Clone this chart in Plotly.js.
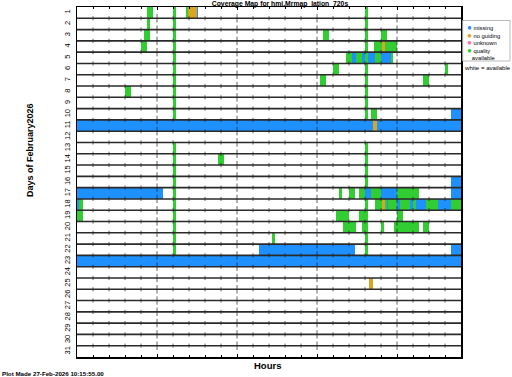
<!DOCTYPE html>
<html><head><meta charset="utf-8">
<script src="https://cdn.plot.ly/plotly-3.0.1.min.js"></script>
<style>html,body{margin:0;padding:0;background:#fff}#chart{width:512px;height:377px}</style>
</head><body><div id="chart"></div>
<script>
// ---- data (hours of day, per day of February 2026) ----
const dayLabels = ['1','2','3','4','5','6','7','8','9','10','11','12','13','14','15','16','17','18','19','20','21','22','23','24','25','26','27','28','29','30','31'];
const hourTicks = [0,1,2,3,4,5,6,7,8,9,10,11,12,13,14,15,16,17,18,19,20,21,22,23,24];

const qualityDay   = [1,1,1,1, 2,2,2, 3,3,3,3,3, 4,4,4,4,4, 5,5,5,5,5,5, 6,6,6,6, 7,7,7,7, 8,8,8, 9,9, 10,10,10, 13,13, 14,14,14, 15,15, 16,16, 17,17,17,17,17,17, 18,18,18,18,18,18,18,18,18,18, 19,19,19,19,19, 20,20,20,20,20,20, 21,21,21, 22,22];
const qualityStart = [4.40,6.02,6.79,18.0, 4.40,6.02,18.0, 4.19,6.02,15.40,18.0,19.0, 4.0,6.02,18.0,18.58,19.25, 6.02,16.79,17.44,18.0,18.6,19.6, 6.02,15.98,18.0,23.0, 6.02,15.19,18.0,21.6, 3.0,6.02,18.0, 6.02,18.0, 6.02,18.0,18.38, 6.02,18.0, 6.02,8.79,18.0, 6.02,18.0, 6.02,18.0, 6.02,16.4,17.0,17.62,18.4,19.98, 0.13,6.02,18.0,18.6,19.25,19.42,20.19,21.02,21.79,23.4, 0.0,6.02,16.19,17.62,19.98, 6.02,16.6,17.8,19.0,19.8,21.6, 6.02,12.2,18.0, 6.02,18.0];
const qualityEnd   = [4.77,6.19,6.92,18.19, 4.58,6.19,18.19, 4.58,6.19,15.77,18.19,19.38, 4.38,6.19,18.19,19.04,19.98, 6.19,17.17,17.79,18.19,19.0,19.75, 6.19,16.37,18.19,23.19, 6.19,15.58,18.19,22.0, 3.38,6.19,18.19, 6.19,18.19, 6.19,18.19,18.77, 6.19,18.19, 6.19,9.17,18.19, 6.19,18.19, 6.19,18.19, 6.19,16.58,17.37,18.0,19.0,21.37, 0.35,6.19,18.19,19.04,19.35,19.98,20.81,21.17,22.58,24.0, 0.35,6.19,17.0,18.19,20.4, 6.19,17.45,18.19,19.19,21.37,22.0, 6.19,12.4,18.19, 6.19,18.19];

const missingDay   = [1, 5,5,5,5, 10, 11,11, 16, 17,17,17,17, 18,18,18,18,18,18, 22,22, 23];
const missingStart = [7.48, 17.17,17.79,18.19,19.0, 23.4, 0.0,18.73, 23.4, 0.0,18.0,19.0,23.4, 0.0,19.35,19.98,20.81,21.17,22.58, 11.39,23.4, 0.0];
const missingEnd   = [7.58, 17.44,18.0,18.6,19.6, 24.0, 18.48,24.0, 24.0, 5.35,18.4,19.98,24.0, 0.13,19.42,20.19,21.02,21.79,23.4, 17.39,24.0, 24.0];

const noGuideDay   = [1, 4, 11, 18, 25];
const noGuideStart = [6.92, 19.04, 18.48, 19.04, 18.27];
const noGuideEnd   = [7.48, 19.25, 18.73, 19.25, 18.47];

const unknownDay = [], unknownStart = [], unknownEnd = [];

const legendNames = ['missing', 'no guiding', 'unknown', 'quality<br>   available'];
const COLORS = {missing:'#1E90FF', noGuide:'#DAA520', unknown:'#FF69B4', quality:'#32CD32'};
const legendColors = [COLORS.missing, COLORS.noGuide, COLORS.unknown, COLORS.quality];

function barTrace(name, d, s, e, color){
  return {type:'bar', orientation:'h', name:name, y:d, base:s,
    x:s.map((v,i)=>e[i]-v), width:d.map(()=>1),
    marker:{color:color, line:{width:0}}, hoverinfo:'skip', showlegend:false};
}

// row boundary lines + hour tick marks on each boundary
const bounds = dayLabels.slice(1).map((_,i)=>i+1.5);
const lx=[], ly=[];
bounds.forEach(b=>{lx.push(0,24,null); ly.push(b,b,null);});
const tx=[], ty=[], ts=[];
bounds.forEach(b=>{hourTicks.slice(1,-1).forEach(h=>{tx.push(h); ty.push(b); ts.push(h%5===0?6:3);});});

const traces = [
  barTrace('quality', qualityDay, qualityStart, qualityEnd, COLORS.quality),
  barTrace('unknown', unknownDay, unknownStart, unknownEnd, COLORS.unknown),
  barTrace('missing', missingDay, missingStart, missingEnd, COLORS.missing),
  barTrace('no guiding', noGuideDay, noGuideStart, noGuideEnd, COLORS.noGuide),
  {type:'scatter', mode:'lines', x:lx, y:ly, line:{color:'#2a2a2a', width:1.6}, hoverinfo:'skip', showlegend:false, connectgaps:false},
  {type:'scatter', mode:'markers', x:tx, y:ty, marker:{symbol:'line-ns', size:ts, line:{width:1, color:'#222'}}, hoverinfo:'skip', showlegend:false}
];

const F = 'Liberation Sans, Arial, sans-serif';
const legendText = legendNames.map((n,i)=>'<span style="color:'+legendColors[i]+';font-size:8px">●</span> '+n).join('<br>');
const annotations = [];
annotations.push({xref:'paper', yref:'paper', x:(465.5-77)/384, y:(357-22.5)/350, xanchor:'left', yanchor:'top', align:'left', showarrow:false, borderpad:0,
  text:legendText, font:{family:F, size:5.8, color:'#000'}});
annotations.push({xref:'paper', yref:'paper', x:(487-77)/384, y:(357-67.5)/350, xanchor:'center', yanchor:'middle', showarrow:false, text:'white = available', font:{family:F, size:6.1, color:'#000'}});
annotations.push({xref:'paper', yref:'paper', x:(30-77)/384, y:(357-150)/350, xanchor:'center', yanchor:'middle', textangle:-90, showarrow:false, text:'<b>Days of February2026</b>', font:{family:F, size:9, color:'#000'}});
annotations.push({xref:'paper', yref:'paper', x:(267.5-77)/384, y:(357-365)/350, xanchor:'center', yanchor:'middle', showarrow:false, text:'<b>Hours</b>', font:{family:F, size:9.5, color:'#000'}});
annotations.push({xref:'paper', yref:'paper', x:(0-77)/384, y:(357-374)/350, xanchor:'left', yanchor:'middle', showarrow:false, text:'<b>Plot Made 27-Feb-2026 10:15:55.00</b>', font:{family:F, size:6.2, color:'#000'}});

const layout = {
  width:512, height:377,
  margin:{l:77, r:51, t:7, b:20, pad:0},
  paper_bgcolor:'#fff', plot_bgcolor:'#fff',
  barmode:'overlay', bargap:0,
  showlegend:false,
  font:{family:F, color:'#000'},
  title:{text:'<b>Coverage Map for hmi.Mrmap_lation_720s</b>', x:280/512, xanchor:'center', y:1-3.5/377, yanchor:'middle', font:{family:F, size:6.8, color:'#000'}},
  xaxis:{range:[0,24], showticklabels:false, showgrid:false, zeroline:false, showline:true, linecolor:'#000', linewidth:1.5, mirror:'ticks',
    ticks:'inside', tick0:0, dtick:5, ticklen:3, tickcolor:'#000', tickwidth:1,
    minor:{ticks:'inside', dtick:1, ticklen:2, tickcolor:'#000', tickwidth:1, showgrid:false}},
  yaxis:{range:[31.5,0.5], tickmode:'array', tickvals:dayLabels.map((_,i)=>i+1), ticktext:dayLabels, tickangle:-90,
    tickfont:{family:F, size:7.5, color:'#000'}, ticks:'', showgrid:false, zeroline:false, showline:true, linecolor:'#000', linewidth:1.5, mirror:true, ticklabelstandoff:3},
  shapes:[{type:'rect', xref:'paper', yref:'paper', x0:(462.7-77)/384, x1:(510-77)/384, y0:(357-20.5)/350, y1:(357-61)/350, line:{color:'#bbb', width:1}, fillcolor:'rgba(0,0,0,0)'}],
  annotations:annotations
};
Plotly.newPlot('chart', traces, layout, {staticPlot:true, displayModeBar:false});
</script>
</body></html>
